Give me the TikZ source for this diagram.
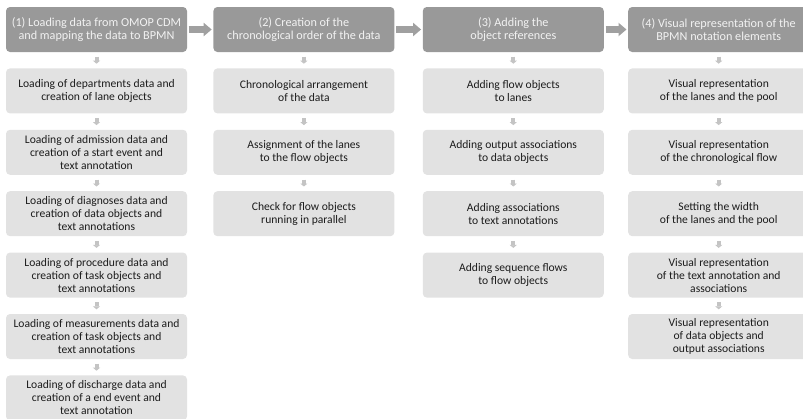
\documentclass[tikz,border=0pt]{standalone}
\usepackage{fontspec}
\setmainfont{Carlito}
\usetikzlibrary{positioning,arrows.meta}
\definecolor{FlowHead}{RGB}{153,153,153}
\definecolor{FlowHeadText}{RGB}{242,242,242}
\definecolor{FlowTask}{RGB}{226,226,226}
\definecolor{FlowText}{RGB}{28,28,28}
\definecolor{FlowDown}{RGB}{196,196,196}
\definecolor{FlowRight}{RGB}{160,160,160}
\tikzset{
  flow box/.style={
    rounded corners=4pt,
    align=center,
    inner sep=3pt,
    minimum width=181pt,
    minimum height=45pt
  },
  flow head/.style={flow box, fill=FlowHead, text=FlowHeadText, font=\fontsize{12.2}{12.6}\selectfont},
  flow task/.style={flow box, fill=FlowTask, text=FlowText, font=\fontsize{11.6}{13}\selectfont},
  flow down/.style={-{Triangle[width=7pt,length=3pt]}, line width=4pt, FlowDown, shorten <=4.5pt, shorten >=4.5pt},
  flow right/.style={-{Triangle[width=13pt,length=8pt]}, line width=7pt, FlowRight, shorten <=1.5pt, shorten >=1.5pt}
}
\begin{document}
\begin{tikzpicture}[node distance=16pt and 26pt]
\useasboundingbox (0,0) rectangle (803pt,-418pt);
\clip (0,0) rectangle (803pt,-418pt);
% phase headers
\node[flow head] (h1) at (96.5pt,-29.5pt) {(1) Loading data from OMOP CDM\\and mapping the data to BPMN};
\node[flow head, right=26pt of h1] (h2) {(2) Creation of the\\chronological order of the data};
\node[flow head, right=28pt of h2] (h3) {(3) Adding the\\object references};
\node[flow head, right=24pt of h3] (h4) {(4) Visual representation of the\\BPMN notation elements};
% column 1
\node[flow task, below=of h1] (a1) {Loading of departments data and\\creation of lane objects};
\node[flow task, below=of a1] (a2) {Loading of admission data and\\creation of a start event and\\text annotation};
\node[flow task, below=of a2] (a3) {Loading of diagnoses data and\\creation of data objects and\\text annotations};
\node[flow task, below=of a3] (a4) {Loading of procedure data and\\creation of task objects and\\text annotations};
\node[flow task, below=of a4] (a5) {Loading of measurements data and\\creation of task objects and\\text annotations};
\node[flow task, below=of a5] (a6) {Loading of discharge data and\\creation of a end event and\\text annotation};
% column 2
\node[flow task, below=of h2] (b1) {Chronological arrangement\\of the data};
\node[flow task, below=of b1] (b2) {Assignment of the lanes\\to the flow objects};
\node[flow task, below=of b2] (b3) {Check for flow objects\\running in parallel};
% column 3
\node[flow task, below=of h3] (c1) {Adding flow objects\\to lanes};
\node[flow task, below=of c1] (c2) {Adding output associations\\to data objects};
\node[flow task, below=of c2] (c3) {Adding associations\\to text annotations};
\node[flow task, below=of c3] (c4) {Adding sequence flows\\to flow objects};
% column 4
\node[flow task, below=of h4] (d1) {Visual representation\\of the lanes and the pool};
\node[flow task, below=of d1] (d2) {Visual representation\\of the chronological flow};
\node[flow task, below=of d2] (d3) {Setting the width\\of the lanes and the pool};
\node[flow task, below=of d3] (d4) {Visual representation\\of the text annotation and\\associations};
\node[flow task, below=of d4] (d5) {Visual representation\\of data objects and\\output associations};
% arrows
\draw[flow right] (h1)--(h2);
\draw[flow right] (h2)--(h3);
\draw[flow right] (h3)--(h4);
\draw[flow down] (h1)--(a1);
\draw[flow down] (a1)--(a2);
\draw[flow down] (a2)--(a3);
\draw[flow down] (a3)--(a4);
\draw[flow down] (a4)--(a5);
\draw[flow down] (a5)--(a6);
\draw[flow down] (h2)--(b1);
\draw[flow down] (b1)--(b2);
\draw[flow down] (b2)--(b3);
\draw[flow down] (h3)--(c1);
\draw[flow down] (c1)--(c2);
\draw[flow down] (c2)--(c3);
\draw[flow down] (c3)--(c4);
\draw[flow down] (h4)--(d1);
\draw[flow down] (d1)--(d2);
\draw[flow down] (d2)--(d3);
\draw[flow down] (d3)--(d4);
\draw[flow down] (d4)--(d5);
\end{tikzpicture}
\end{document}
